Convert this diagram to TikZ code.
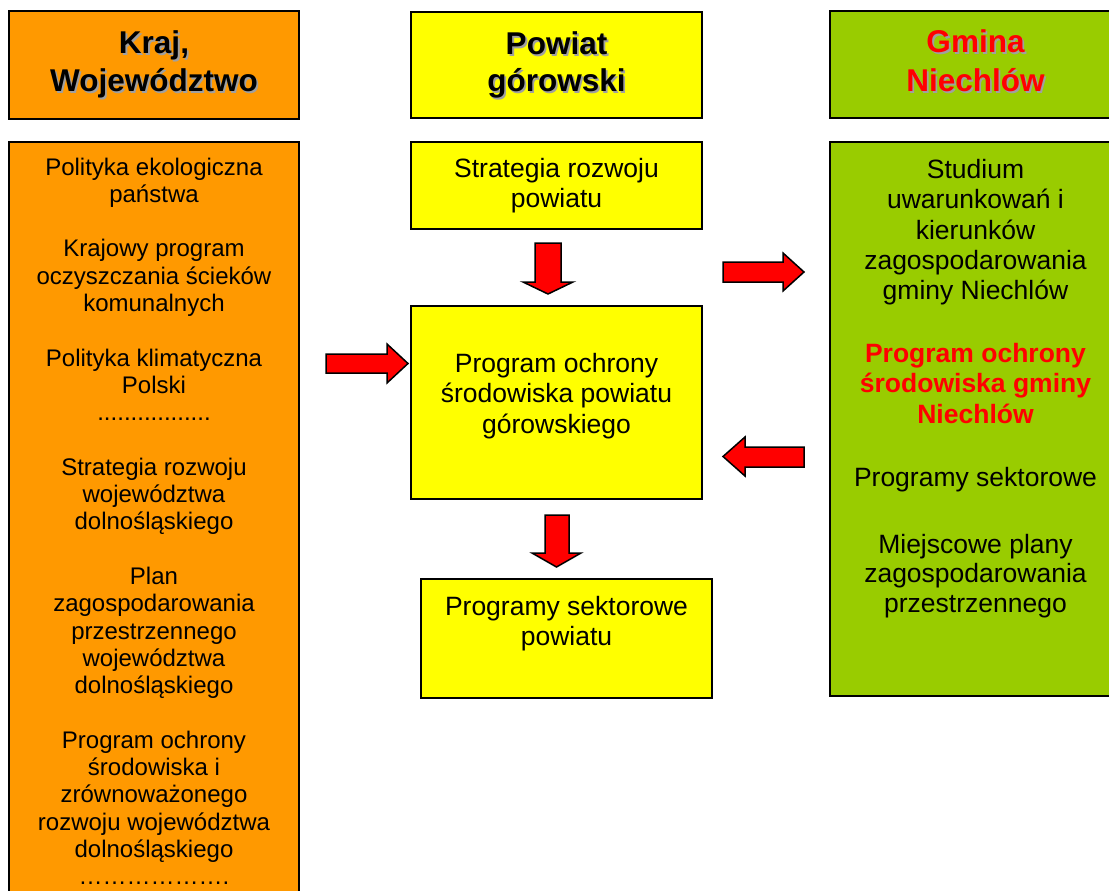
\documentclass[tikz,border=0pt]{standalone}
\usepackage{fontspec}
\setmainfont{Liberation Sans}
\definecolor{korange}{HTML}{FF9900}
\definecolor{kyellow}{HTML}{FFFF00}
\definecolor{kgreen}{HTML}{99CC00}
\definecolor{kred}{HTML}{FF0000}
\definecolor{kshadow}{HTML}{A0A0A0}
\newcommand\hdrline[5]{%
  \node[hdr,text=kshadow,xshift=1.8pt,yshift=-1.8pt] (#1s) at (#2,#3) {#5};
  \node[hdr,text=#4] (#1) at (#2,#3) {#5};}
\newcommand\kdotsA{.................}
\newcommand\kdotsB{……………….}
\begin{document}
\begin{tikzpicture}[x=1pt,y=-1pt,
  box/.style={draw=black,line width=2pt,rectangle,inner sep=0pt},
  hdr/.style={font=\fontsize{31.5}{36}\selectfont\bfseries,anchor=base,inner sep=0pt},
  lline/.style={font=\fontsize{24}{27}\selectfont,anchor=base,inner sep=0pt},
  mline/.style={font=\fontsize{26.5}{30.5}\selectfont,anchor=base,inner sep=0pt},
  rbold/.style={font=\fontsize{26.5}{30.5}\selectfont\bfseries,text=kred,anchor=base,inner sep=0pt},
  blockarrow/.style={fill=kred,draw=black,line width=1.5pt,line join=miter}]
\useasboundingbox (0,0) rectangle (1109,891);

% boxes
\node[box,fill=korange,minimum width=290pt,minimum height=108pt] (krajhdr) at (154,65) {};
\node[box,fill=kyellow,minimum width=291pt,minimum height=106pt] (powhdr) at (556.5,65) {};
\node[box,fill=kgreen,minimum width=291pt,minimum height=107pt] (gmhdr) at (975.5,64.5) {};
\node[box,fill=korange,minimum width=290pt,minimum height=768pt] (kraj) at (154,526) {};
\node[box,fill=kyellow,minimum width=291pt,minimum height=87pt] (strat) at (556.5,185.5) {};
\node[box,fill=kyellow,minimum width=291pt,minimum height=193pt] (prog) at (556.5,402.5) {};
\node[box,fill=kyellow,minimum width=291pt,minimum height=119pt] (sekt) at (566.5,638.5) {};
\node[box,fill=kgreen,minimum width=291pt,minimum height=554pt] (gmina) at (975.5,419) {};

% headers
\hdrline{h1}{154}{54}{black}{Kraj,}
\hdrline{h2}{154}{92}{black}{Województwo}
\hdrline{h3}{556.5}{55}{black}{Powiat}
\hdrline{h4}{556.5}{92}{black}{górowski}
\hdrline{h5}{975.5}{53}{kred}{Gmina}
\hdrline{h6}{975.5}{92}{kred}{Niechlów}

% left column
\foreach \yy/\txt [count=\i] in {
  175/Polityka ekologiczna, 202.3/państwa,
  256.9/Krajowy program, 284.2/oczyszczania ścieków, 311.5/komunalnych,
  366.1/Polityka klimatyczna, 393.4/Polski, 420.7/\kdotsA,
  475.3/Strategia rozwoju, 502.6/województwa, 529.9/dolnośląskiego,
  584.5/Plan, 611.8/zagospodarowania, 639.1/przestrzennego, 666.4/województwa, 693.7/dolnośląskiego,
  748.3/Program ochrony, 775.6/środowiska i, 802.9/zrównoważonego, 830.2/rozwoju województwa, 857.5/dolnośląskiego,
  884.8/\kdotsB}
  \node[lline] (l\i) at (154,\yy) {\txt};

% middle column
\node[mline] (s1) at (556.5,177) {Strategia rozwoju};
\node[mline] (s2) at (556.5,207) {powiatu};
\node[mline] (p1) at (556.5,372) {Program ochrony};
\node[mline] (p2) at (556.5,402.5) {środowiska powiatu};
\node[mline] (p3) at (556.5,433) {górowskiego};
\node[mline] (k1) at (566.5,615) {Programy sektorowe};
\node[mline] (k2) at (566.5,645.5) {powiatu};

% right column
\foreach \yy/\txt [count=\i] in {
  178/Studium, 208.5/uwarunkowań i, 239/kierunków, 269.5/zagospodarowania, 299/gminy Niechlów,
  486/Programy sektorowe,
  553/Miejscowe plany, 582.5/zagospodarowania, 612/przestrzennego}
  \node[mline] (r\i) at (975.5,\yy) {\txt};
\node[rbold] (rb1) at (975.5,362) {Program ochrony};
\node[rbold] (rb2) at (975.5,392.5) {środowiska gminy};
\node[rbold] (rb3) at (975.5,423) {Niechlów};

% block arrows
\draw[blockarrow] (535,243) -- (561,243) -- (561,282) -- (573,282) -- (548,294) -- (523,282) -- (535,282) -- cycle;
\draw[blockarrow] (545,515) -- (569,515) -- (569,553) -- (581,553) -- (556.5,567) -- (532,553) -- (545,553) -- cycle;
\draw[blockarrow] (326,354) -- (387,354) -- (387,344) -- (408,363.5) -- (387,383) -- (387,373) -- (326,373) -- cycle;
\draw[blockarrow] (723,262) -- (783,262) -- (783,253) -- (804,272) -- (783,291) -- (783,282) -- (723,282) -- cycle;
\draw[blockarrow] (804,447) -- (745,447) -- (745,437) -- (723,456.5) -- (745,476) -- (745,467) -- (804,467) -- cycle;
\end{tikzpicture}
\end{document}
